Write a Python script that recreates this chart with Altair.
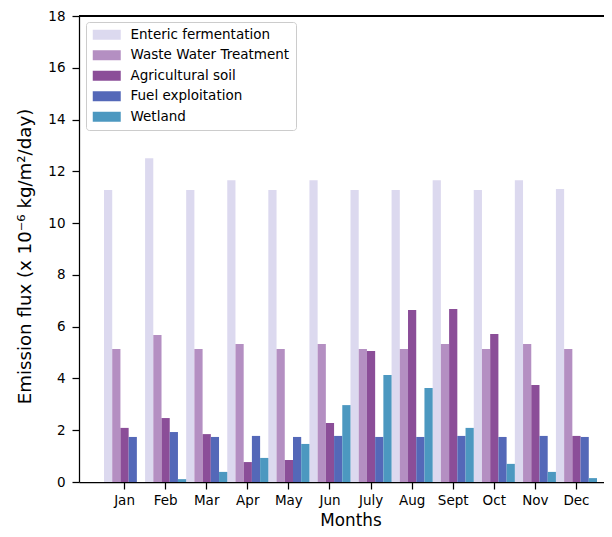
import altair as alt
import pandas as pd

months = ["Jan", "Feb", "Mar", "Apr", "May", "Jun", "July", "Aug", "Sept", "Oct", "Nov", "Dec"]
sources = ["Enteric fermentation", "Waste Water Treatment", "Agricultural soil",
           "Fuel exploitation", "Wetland"]
colors = ["#dcd9ef", "#b48fc2", "#8b4e98", "#5468b8", "#4c98c0"]

enteric = [11.28, 12.51, 11.28, 11.66, 11.28, 11.66, 11.28, 11.28, 11.66, 11.28, 11.66, 11.32]
waste = [5.14, 5.68, 5.14, 5.33, 5.14, 5.33, 5.14, 5.14, 5.33, 5.14, 5.33, 5.14]
agri = [2.09, 2.47, 1.85, 0.77, 0.85, 2.28, 5.06, 6.64, 6.68, 5.72, 3.75, 1.78]
fuel = [1.74, 1.93, 1.74, 1.78, 1.74, 1.78, 1.74, 1.74, 1.78, 1.74, 1.78, 1.74]
wetland = [0.0, 0.11, 0.39, 0.93, 1.47, 2.97, 4.13, 3.63, 2.09, 0.70, 0.39, 0.15]

series = [enteric, waste, agri, fuel, wetland]
rows = []
for src, vals in zip(sources, series):
    for m, v in zip(months, vals):
        rows.append({"month": m, "source": src, "value": v})
df = pd.DataFrame(rows)

FONT = "DejaVu Sans"

bars = alt.Chart(df).mark_bar(strokeWidth=0).encode(
    x=alt.X("month:N", sort=months,
            scale=alt.Scale(paddingInner=0, paddingOuter=0.3895, align=0.78125),
            axis=alt.Axis(title="Months", labelAngle=0, labelFontSize=13.5,
                          labelFont=FONT, labelColor="black", labelPadding=4,
                          tickSize=7, tickWidth=1.25, tickColor="black",
                          domainColor="black", domainWidth=1.25,
                          titleFont=FONT, titleFontSize=16.8, titleFontWeight="normal",
                          titleColor="black", titleX=271.5, titleY=43,
                          titleAlign="center", titleBaseline="alphabetic")),
    xOffset=alt.XOffset("source:N", sort=sources,
                        scale=alt.Scale(paddingInner=0, paddingOuter=0)),
    y=alt.Y("value:Q", scale=alt.Scale(domain=[0, 18], nice=False),
            axis=alt.Axis(title="Emission flux (x 10⁻⁶ kg/m²/day)",
                          values=list(range(0, 19, 2)), grid=False,
                          labelFontSize=13.5, labelFont=FONT, labelColor="black",
                          labelPadding=7, tickSize=7, tickWidth=1.25, tickColor="black",
                          domainColor="black", domainWidth=1.25,
                          titleFont=FONT, titleFontSize=18.2, titleFontWeight="normal",
                          titleColor="black", titleX=-49, titleY=240,
                          titleAngle=270, titleAlign="center",
                          titleBaseline="alphabetic")),
    color=alt.Color("source:N", sort=sources,
                    scale=alt.Scale(domain=sources, range=colors),
                    legend=alt.Legend(title=None, orient="none", legendX=7, legendY=6,
                                      symbolType="M-2.8,-1H2.8V1H-2.8Z",
                                      symbolSize=100, symbolStrokeWidth=0,
                                      symbolOffset=8, labelOffset=17,
                                      labelFont=FONT, labelFontSize=13.5,
                                      labelColor="black", rowPadding=5.5,
                                      padding=6, fillColor="rgba(255,255,255,0.8)",
                                      strokeColor="#cccccc", cornerRadius=3)),
)

top = alt.Chart(df).mark_rule(color="black", strokeWidth=1.25).encode(y=alt.datum(18))

chart = alt.layer(bars, top).properties(
    width=525, height=466,
    autosize=alt.AutoSizeParams(type="none"),
    padding={"left": 71, "top": 8, "right": 0, "bottom": 47},
).configure_view(stroke=None)

chart.save("out.html", embed_options={"renderer": "svg", "actions": False})
